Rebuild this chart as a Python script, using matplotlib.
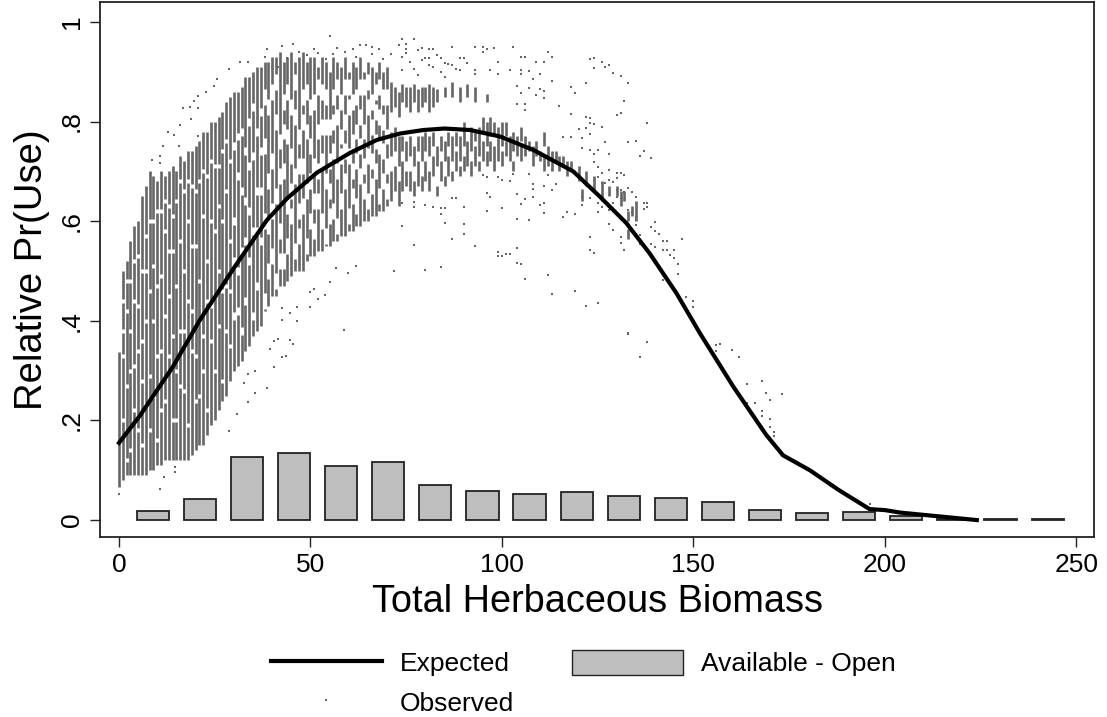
import numpy as np
import matplotlib
matplotlib.use('Agg')
import matplotlib.pyplot as plt
from matplotlib.patches import Patch
from matplotlib.lines import Line2D

plt.rcParams['font.family'] = ['Liberation Sans', 'DejaVu Sans']

# expected curve
curve_x = [0, 5.5, 14, 21, 30, 38.6, 43.8, 51.6, 60.3, 67.3, 73.4, 79.5, 85, 91.7, 99.5, 108.2, 118.6,
           125.6, 132.5, 138.6, 145.6, 151.7, 160.4, 169, 173.4, 180.4, 188, 196, 200, 204, 224]
curve_y = [.155, .21, .307, .40, .506, .602, .645, .697, .737, .763, .776, .783, .786, .783, .770, .743, .70,
           .649, .596, .535, .455, .375, .268, .171, .13, .10, .06, .022, .02, .015, 0]

# available bars
bar_x = [8.8, 21.1, 33.4, 45.7, 58, 70.3, 82.6, 94.9, 107.2, 119.5, 131.8, 144.1, 156.4, 168.7, 181, 193.3,
         205.6, 217.9, 230.2, 242.5]
bar_h = [.018, .043, .127, .135, .108, .117, .071, .059, .053, .056, .048, .045, .037, .02, .015, .017,
         .009, .002, .002, .002]

# observed, dense columns: range of each biomass value
col_x = list(range(1, 71))
col_lo = [.08, .09, .09, .09, .09, .09, .09, .10, .10, .11, .11, .12, .12, .12, .12, .12, .12, .12, .13, .14,
          .15, .15, .17, .19, .20, .22, .24, .25, .28, .30, .31, .32, .34, .35, .37, .38, .39, .42, .43, .45,
          .45, .47, .47, .48, .49, .50, .50, .50, .52, .53, .53, .54, .54, .55, .55, .56, .56, .57, .57, .58,
          .58, .59, .59, .60, .60, .61, .61, .62, .62, .63]
col_hi = [.50, .52, .56, .59, .60, .65, .67, .70, .69, .68, .70, .69, .70, .71, .70, .73, .72, .74, .74, .75,
          .76, .78, .78, .80, .80, .81, .82, .84, .85, .86, .86, .87, .89, .89, .90, .91, .91, .92, .92, .93,
          .93, .94, .92, .93, .94, .92, .93, .94, .92, .93, .93, .91, .93, .92, .90, .93, .92, .91, .93, .90,
          .92, .91, .93, .90, .92, .91, .90, .92, .90, .91]
gap_a = [.20, .27, .14, .31, .18, .36, .23, .29, .40, .16, .34, .24, .45, .20, .30, .38, .26, .19, .42, .33,
         .25, .37, .22, .43, .30, .39, .28, .47, .35, .41, .50, .38, .44, .52, .41, .47, .56, .44, .50, .53,
         .48, .58, .52, .55, .61, .54, .57, .63, .55, .60, .58, .64, .60, .57, .66, .62, .59, .64, .68, .61,
         .65, .63, .69, .66, .64, .67, .70, .65, .68, .66]
gap_b = [.33, .42, .48, .44, .53, .28, .57, .46, .51, .62, .49, .58, .33, .54, .47, .27, .50, .60, .34, .55,
         .48, .61, .52, .36, .58, .63, .46, .66, .56, .60, .69, .54, .64, .71, .58, .66, .74, .60, .68, .72,
         .65, .76, .70, .63, .73, .69, .77, .71, .66, .75, .71, .78, .72, .68, .79, .74, .70, .77, .80, .73,
         .76, .72, .81, .78, .73, .79, .82, .75, .80, .77]
gap_c = [.44, .12, .38, .22, .43, .50, .40, .60, .25, .47, .62, .41, .63, .37, .64, .56, .66, .44, .67, .24,
         .68, .30, .69, .60, .71, .50, .74, .38, .72, .52, .77, .66, .56, .80, .73, .58, .82, .75, .83, .62,
         .80, .69, .84, .77, .66, .81, .71, .85, .78, .68, .84, .70, .86, .79, .72, .85, .81, .73, .87, .83,
         .70, .85, .75, .87, .83, .72, .86, .81, .74, .85]
gap_d = [.38, .48, .30, .52, .34, .15, .50, .18, .60, .33, .22, .64, .54, .61, .20, .68, .38, .68, .55, .66,
         .40, .70, .44, .72, .45, .71, .60, .76, .46, .75, .42, .78, .74, .62, .83, .78, .66, .85, .59, .86,
         .88, .52, .78, .86, .83, .88, .62, .80, .86, .83, .64, .87, .79, .85, .61, .80, .87, .84, .74, .87,
         .84, .78, .87, .71, .88, .84, .76, .87, .85, .71]

# observed, broken columns further out (biomass, low, high)
broken = [(71, .64, .70), (71, .73, .78), (71, .82, .88), (72, .66, .71), (72, .74, .79), (72, .83, .87),
          (73, .63, .68), (73, .71, .77), (73, .81, .86), (74, .66, .72), (74, .74, .77), (74, .84, .875),
          (75, .67, .70), (75, .72, .76), (75, .83, .87), (76, .66, .70), (76, .73, .77), (76, .82, .87),
          (77, .65, .68), (77, .71, .75), (77, .84, .875), (78, .67, .72), (78, .74, .77), (78, .82, .865),
          (79, .66, .69), (79, .72, .77), (79, .83, .87), (80, .68, .72), (80, .74, .78), (80, .84, .87),
          (81, .66, .70), (81, .73, .77), (81, .82, .875), (82, .69, .73), (82, .75, .78), (82, .83, .87),
          (83, .65, .67), (83, .71, .75), (83, .84, .865), (84, .68, .72), (84, .74, .77), (85, .67, .69),
          (85, .72, .76), (85, .85, .87), (86, .69, .73), (86, .75, .78), (87, .68, .70), (87, .72, .77),
          (87, .85, .88), (88, .70, .74), (88, .75, .78), (89, .69, .71), (89, .72, .77), (89, .84, .87),
          (90, .70, .73), (90, .75, .80), (91, .71, .76), (91, .85, .875), (92, .69, .72), (92, .74, .79),
          (93, .71, .75), (93, .76, .78), (93, .84, .87), (94, .70, .72), (94, .73, .79), (95, .72, .76),
          (95, .78, .81), (96, .71, .74), (96, .75, .80), (96, .84, .855), (97, .72, .76), (97, .77, .81),
          (98, .70, .75), (98, .77, .80), (99, .72, .79), (100, .71, .74), (100, .75, .80), (101, .73, .76),
          (101, .77, .80), (102, .72, .77), (103, .74, .78), (103, .70, .72), (104, .73, .77), (105, .72, .75),
          (105, .76, .79), (106, .73, .77), (107, .74, .76), (108, .71, .75), (109, .73, .76), (110, .72, .74),
          (111, .70, .73), (111, .75, .78), (112, .71, .75), (113, .70, .74), (114, .72, .74), (115, .70, .73),
          (116, .71, .73), (117, .69, .72), (118, .70, .72), (120, .68, .71), (121, .64, .665), (122, .67, .70),
          (124, .66, .69), (126, .64, .68), (128, .65, .67), (130, .65, .67), (131, .63, .66), (132, .64, .66),
          (133, .60, .62), (134, .61, .63), (135, .60, .64), (133, .565, .585)]
first_col = (0, .066, .337)

# observed, single dots
dots = [(0, .053), (10.7, .062), (11.7, .087), (14.6, .107), (14.6, .097), (28.7, .179), (30.7, .213), (33.7, .238),
        (35.6, .256), (38.7, .266), (32.7, .276), (35.6, .299), (33.7, .294), (40.6, .308), (42.6, .328), (43.5, .330),
        (39.5, .343), (40.6, .359), (41.5, .363), (44.6, .361), (45.4, .353), (58.8, .381), (42.6, .402), (46.5, .399),
        (44.6, .415), (42.6, .425), (46.5, .428), (49.8, .428), (52, .443), (53.7, .452), (49.8, .458), (50.8, .463),
        (71.7, .499), (59.8, .495), (55, .478), (56.7, .507), (61.8, .510),
        (55, .972), (45.4, .956), (42.6, .952), (38.7, .946), (33.7, .920), (31.5, .919), (28.7, .905), (25.6, .885),
        (24.7, .871), (22.7, .860), (20.7, .851), (19.6, .841), (18.5, .829), (16.7, .827), (20.7, .827), (18.7, .805),
        (15.9, .793), (12.8, .780), (14.3, .773), (20.7, .770), (11.5, .750), (15.7, .751), (10.8, .730), (8.7, .723),
        (10.7, .716), (57, .947), (63, .954), (64.6, .954), (73, .954), (59, .940), (52, .937), (49, .934), (44, .927),
        (40, .910), (41.5, .910), (47, .925), (51, .945), (54, .925), (56, .935), (61, .945), (62, .930), (66, .935),
        (68, .945), (69, .925), (71, .935), (74, .93), (75, .945), (47, .94), (38, .93), (66, .95),
        (77, .966), (74, .966), (75, .956), (87, .950), (93, .950), (95, .950), (95, .940), (96, .945), (98, .947),
        (103, .950), (105, .930), (106, .930), (112, .940), (113, .930), (109, .920), (111, .920), (99, .920), (97, .904),
        (102, .904), (105, .904), (105, .895), (107, .902), (110, .895), (99, .895), (93, .904), (93, .895), (108, .885),
        (113, .882), (123, .925), (124, .927), (126, .920), (127, .910), (128, .913), (124, .907), (129, .897), (131, .892),
        (133, .877), (122, .877), (118, .870), (119, .857), (104, .872), (107, .867), (110, .865), (111, .862), (109, .853),
        (111, .847), (132, .841), (115, .831), (104, .835), (106, .835), (106, .823), (105, .857), (131, .818), (130, .813),
        (118, .815), (122, .810), (123, .808), (123, .797), (124, .795), (126, .790), (138, .798), (120, .786), (122, .788),
        (123, .775), (121, .766), (116, .768), (118, .768), (127, .758), (133, .758), (135, .760), (137, .740), (136, .730),
        (139, .726), (128, .734), (123, .743), (124, .734), (125, .742), (121, .746),
        (75, .956), (78, .944), (79, .947), (81, .945), (82, .945), (83, .934), (84, .927), (79, .924), (80, .927), (81, .927),
        (75, .937), (76, .920), (77, .905), (74, .904), (78, .894), (81, .914), (82, .910), (85, .917), (86, .916), (87, .914),
        (88, .905), (89, .927), (90, .927), (91, .917), (89, .904), (84, .900), (85, .890),
        (74, .590), (77, .552), (80, .502), (84, .508), (85, .596), (87, .565), (90, .594), (90, .574), (93, .550), (96, .620),
        (100, .626), (104, .604), (107, .602), (104, .547), (99, .539), (100, .530), (101, .534), (102, .535), (99, .530),
        (104, .517), (105, .514), (106, .483), (112, .492), (113, .453), (119, .460), (122, .430), (125, .435), (133, .375),
        (138, .358), (123, .568), (123, .543), (124, .537), (131, .569), (131, .557), (132, .542), (128, .594), (129, .582),
        (111, .617), (116, .609), (117, .619), (119, .614), (110, .632), (111, .637), (108, .649), (108, .674), (108, .665),
        (111, .671), (112, .693), (113, .703), (114, .674), (113, .663), (106, .645), (105, .634), (104, .655), (96, .656),
        (97, .649), (90, .629), (87, .646), (88, .646), (84, .626), (85, .626), (84, .614), (82, .629), (80, .632), (77, .639),
        (77, .629), (74, .637), (107, .695), (103, .695), (102, .681), (99, .689), (100, .683), (95, .693), (96, .689),
        (140, .599), (139, .589), (140, .581), (141, .575), (142, .561), (143, .561), (147, .564), (142, .542), (143, .542),
        (144, .532), (145, .542), (145, .527), (146, .515), (146, .494), (142, .482), (148, .448), (150, .440), (150, .427),
        (139, .554), (140, .549), (138, .637), (137, .637), (138, .629), (137, .624), (133, .666), (134, .659), (135, .649),
        (136, .572), (136, .555), (135, .592), (133, .622), (134, .619), (135, .609), (135, .602), (131, .696), (132, .693),
        (130, .696), (130, .686), (128, .703), (126, .696), (125, .689), (124, .719), (125, .709), (126, .676), (127, .676),
        (128, .683), (129, .679), (130, .663), (131, .663), (132, .659), (130, .649), (131, .646), (121, .649), (121, .632),
        (123, .646), (125, .636), (127, .636), (125, .619), (126, .629), (128, .622), (129, .636),
        (133, .373), (138, .358), (136, .328), (156, .351), (157, .353), (156, .340), (160, .341), (162, .328), (164, .274),
        (168, .280), (169, .256), (173, .254), (170, .241), (164, .236), (166, .236), (168, .219), (168, .208), (170, .203),
        (170, .187), (171, .177), (171, .169), (196, .033)]

# ticks and text
xticks = [0, 50, 100, 150, 200, 250]
yticks = [0, .2, .4, .6, .8, 1]
yticklabels = ['0', '.2', '.4', '.6', '.8', '1']

fig = plt.figure(figsize=(11.07, 7.17), dpi=100)
ax = fig.add_axes([100 / 1107, 1 - 537 / 717, 994 / 1107, 535 / 717])

ax.bar(bar_x, bar_h, width=8.4, color='#bebebe', edgecolor='#222222', linewidth=1.3, zorder=1)

# split each dense column at its gaps
gray = '#666666'
seg_x, seg_lo, seg_hi = [first_col[0]], [first_col[1]], [first_col[2]]
for i, x in enumerate(col_x):
    w = .004 if x < 30 else (.008 if x < 38 else .016)
    start = col_lo[i]
    for g in sorted([gap_a[i], gap_b[i], gap_c[i], gap_d[i]]):
        if start < g - w < col_hi[i]:
            seg_x.append(x); seg_lo.append(start); seg_hi.append(g - w)
            start = g + w
    seg_x.append(x); seg_lo.append(start); seg_hi.append(col_hi[i])
for x, lo, hi in broken:
    seg_x.append(x); seg_lo.append(lo); seg_hi.append(hi)
ax.vlines(seg_x, seg_lo, seg_hi, color=gray, linewidth=1.9, capstyle='butt', zorder=2)

dot_x = [d[0] for d in dots]
dot_y = [d[1] for d in dots]
ax.scatter(dot_x, dot_y, marker='s', s=4, color=gray, linewidths=0, zorder=2)

ax.plot(curve_x, curve_y, color='black', linewidth=3, zorder=3)

ax.set_xlim(-4.96, 254.6)
ax.set_ylim(-.034, 1.04)
ax.set_xticks(xticks)
ax.set_yticks(yticks)
ax.set_yticklabels(yticklabels, rotation=90, va='center')
ax.tick_params(axis='both', length=7.5, width=1, labelsize=19, pad=4, color='#222222')
for s in ax.spines.values():
    s.set_linewidth(1.3)
    s.set_color('#222222')

ax.set_xlabel('Total Herbaceous Biomass', fontsize=27.3, labelpad=5)
ax.set_ylabel('Relative Pr(Use)', fontsize=27.5, labelpad=7)

handles = [Line2D([], [], color='black', linewidth=3),
           Line2D([], [], color=gray, marker='s', markersize=1.6, linestyle='none', markeredgewidth=0),
           Patch(facecolor='#bebebe', edgecolor='#222222', linewidth=1)]
labels = ['Expected', 'Observed', 'Available - Open']
fig.legend(handles, labels, ncol=2, frameon=False, fontsize=19, loc='center',
           bbox_to_anchor=(583 / 1107, 1 - 683 / 717), handlelength=4.2, handleheight=1.05,
           handletextpad=.68, columnspacing=2.2, labelspacing=.5, borderpad=0)

fig.savefig('out.png', dpi=100)
